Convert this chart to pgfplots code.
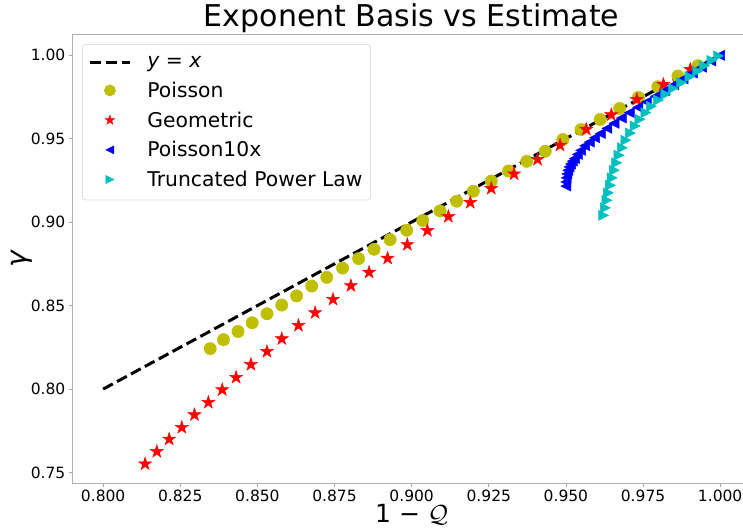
\documentclass[border=0pt]{standalone}
\usepackage{fontspec}
\setmainfont{DejaVu Sans}
\usepackage{pgfplots}
\pgfplotsset{compat=1.18}

\definecolor{mplyellow}{HTML}{BFBF00}
\definecolor{mplred}{HTML}{FF0000}
\definecolor{mplblue}{HTML}{0000FF}
\definecolor{mplcyan}{HTML}{00BFBF}

% filled five-pointed star, like matplotlib's '*'
\pgfdeclareplotmark{mplstar}{%
  \pgfpathmoveto{\pgfpointpolar{90}{\pgfplotmarksize}}%
  \pgfpathlineto{\pgfpointpolar{126}{0.382\pgfplotmarksize}}%
  \pgfpathlineto{\pgfpointpolar{162}{\pgfplotmarksize}}%
  \pgfpathlineto{\pgfpointpolar{198}{0.382\pgfplotmarksize}}%
  \pgfpathlineto{\pgfpointpolar{234}{\pgfplotmarksize}}%
  \pgfpathlineto{\pgfpointpolar{270}{0.382\pgfplotmarksize}}%
  \pgfpathlineto{\pgfpointpolar{306}{\pgfplotmarksize}}%
  \pgfpathlineto{\pgfpointpolar{342}{0.382\pgfplotmarksize}}%
  \pgfpathlineto{\pgfpointpolar{18}{\pgfplotmarksize}}%
  \pgfpathlineto{\pgfpointpolar{54}{0.382\pgfplotmarksize}}%
  \pgfpathclose
  \pgfusepathqfillstroke}
% triangles pointing left and right
\pgfdeclareplotmark{tleft}{%
  \pgfpathmoveto{\pgfpoint{-\pgfplotmarksize}{0pt}}%
  \pgfpathlineto{\pgfpoint{\pgfplotmarksize}{-\pgfplotmarksize}}%
  \pgfpathlineto{\pgfpoint{\pgfplotmarksize}{\pgfplotmarksize}}%
  \pgfpathclose
  \pgfusepathqfillstroke}
\pgfdeclareplotmark{tright}{%
  \pgfpathmoveto{\pgfpoint{\pgfplotmarksize}{0pt}}%
  \pgfpathlineto{\pgfpoint{-\pgfplotmarksize}{\pgfplotmarksize}}%
  \pgfpathlineto{\pgfpoint{-\pgfplotmarksize}{-\pgfplotmarksize}}%
  \pgfpathclose
  \pgfusepathqfillstroke}

\begin{document}
\begin{tikzpicture}
\begin{axis}[
    scale only axis,
    width=670.7bp, height=449bp,
    xmin=0.79, xmax=1.0074,
    ymin=0.7436, ymax=1.0124,
    xtick={0.8,0.825,...,1.0001},
    ytick={0.75,0.8,...,1.0001},
    x tick label style={/pgf/number format/.cd,fixed,fixed zerofill,precision=3},
    y tick label style={/pgf/number format/.cd,fixed,fixed zerofill,precision=2},
    /pgf/number format/assume math mode=true,
    tick label style={font=\fontsize{15.5bp}{18bp}\selectfont},
    tick align=outside,
    major tick length=3.5bp,
    tick style={gray!70, line width=0.8bp},
    axis line style={gray!60, line width=0.8bp},
    xtick pos=bottom, ytick pos=left,
    title={Exponent Basis vs Estimate},
    title style={font=\fontsize{30bp}{36bp}\selectfont, at={(axis description cs:0.506,1.004)}, anchor=base},
    xlabel={1 − \(\mathcal{Q}\)},
    xlabel style={font=\fontsize{25bp}{30bp}\selectfont, at={(axis description cs:0.506,-0.0877)}, anchor=base},
    ylabel={\itshape γ},
    ylabel style={font=\fontsize{28bp}{34bp}\selectfont, at={(axis description cs:-0.075,0.5)}, anchor=center},
    legend cell align=left,
    legend style={
        at={(axis description cs:0.0145,0.978)}, anchor=north west,
        draw=gray!25, line width=0.8bp, rounded corners=3bp,
        font=\fontsize{20.3bp}{24bp}\selectfont,
        inner xsep=6bp, inner ysep=10bp,
        row sep=8.8bp,
        /tikz/every odd column/.append style={column sep=14bp},
    },
]
\addlegendimage{legend image code/.code={\draw[black, line width=3bp, dash pattern=on 11bp off 4.8bp] (0bp,0bp) -- (40bp,0bp);}}
\addlegendentry{{\itshape y} = {\itshape x}}

% Poisson
\addplot[only marks, mark=*, mark size=6.2bp, color=mplyellow,
    legend image code/.code={\path[draw=none] (0bp,0bp) -- (40bp,0bp);
        \path[draw=none] plot[only marks, mark=*, mark size=5.5bp, mark options={draw=mplyellow, fill=mplyellow}] coordinates {(20bp,0bp)};}]
coordinates {
(0.8347,0.8242) (0.8390,0.8296) (0.8437,0.8345) (0.8483,0.8397) (0.8531,0.8451)
(0.8579,0.8503) (0.8627,0.8558) (0.8676,0.8617) (0.8725,0.8669) (0.8776,0.8725)
(0.8828,0.8781) (0.8878,0.8837) (0.8930,0.8895) (0.8984,0.8951) (0.9036,0.9009)
(0.9092,0.9067) (0.9146,0.9125) (0.9200,0.9185) (0.9258,0.9245) (0.9314,0.9306)
(0.9373,0.9364) (0.9433,0.9424) (0.9490,0.9494) (0.9549,0.9554) (0.9611,0.9614)
(0.9674,0.9680) (0.9735,0.9746) (0.9798,0.9810) (0.9863,0.9874) (0.9928,0.9936)
};
\addlegendentry{Poisson}

% Geometric
\addplot[only marks, mark=mplstar, mark size=6.8bp, color=mplred, line width=0.5bp,
    legend image code/.code={\path[draw=none] (0bp,0bp) -- (40bp,0bp);
        \path[draw=none] plot[only marks, mark=mplstar, mark size=5bp, mark options={draw=mplred, fill=mplred, line width=0.5bp}] coordinates {(20bp,0bp)};}]
coordinates {
(0.8136,0.7552) (0.8174,0.7626) (0.8214,0.7700) (0.8255,0.7770) (0.8296,0.7846)
(0.8341,0.7920) (0.8386,0.7996) (0.8431,0.8070) (0.8479,0.8147) (0.8531,0.8225)
(0.8579,0.8301) (0.8633,0.8381) (0.8687,0.8457) (0.8745,0.8537) (0.8803,0.8619)
(0.8862,0.8699) (0.8922,0.8783) (0.8986,0.8865) (0.9051,0.8949) (0.9119,0.9033)
(0.9190,0.9117) (0.9258,0.9201) (0.9332,0.9288) (0.9408,0.9375) (0.9481,0.9460)
(0.9566,0.9555) (0.9647,0.9642) (0.9730,0.9734) (0.9816,0.9824) (0.9903,0.9914)
};
\addlegendentry{Geometric}

% Poisson10x
\addplot[only marks, mark=tleft, mark size=5bp, color=mplblue, line width=0.5bp,
    legend image code/.code={\path[draw=none] (0bp,0bp) -- (40bp,0bp);
        \path[draw=none] plot[only marks, mark=tleft, mark size=4bp, mark options={draw=mplblue, fill=mplblue, line width=0.5bp}] coordinates {(20bp,0bp)};}]
coordinates {
(0.9500,0.9215) (0.9500,0.9240) (0.9501,0.9265) (0.9503,0.9288) (0.9506,0.9310)
(0.9510,0.9330) (0.9515,0.9348) (0.9521,0.9365) (0.9528,0.9381) (0.9537,0.9405)
(0.9548,0.9429) (0.9561,0.9457) (0.9576,0.9479) (0.9593,0.9505) (0.9612,0.9530)
(0.9633,0.9561) (0.9656,0.9591) (0.9680,0.9623) (0.9706,0.9655) (0.9733,0.9687)
(0.9761,0.9719) (0.9790,0.9753) (0.9820,0.9787) (0.9850,0.9822) (0.9880,0.9857)
(0.9910,0.9892) (0.9940,0.9927) (0.9970,0.9964) (0.9998,0.9998)
};
\addlegendentry{Poisson10x}

% Truncated Power Law
\addplot[only marks, mark=tright, mark size=5bp, color=mplcyan, line width=0.5bp,
    legend image code/.code={\path[draw=none] (0bp,0bp) -- (40bp,0bp);
        \path[draw=none] plot[only marks, mark=tright, mark size=4bp, mark options={draw=mplcyan, fill=mplcyan, line width=0.5bp}] coordinates {(20bp,0bp)};}]
coordinates {
(0.9622,0.9040) (0.9628,0.9085) (0.9633,0.9130) (0.9638,0.9175) (0.9644,0.9220)
(0.9650,0.9265) (0.9657,0.9310) (0.9664,0.9355) (0.9672,0.9400) (0.9683,0.9445)
(0.9694,0.9490) (0.9709,0.9533) (0.9724,0.9575) (0.9740,0.9615) (0.9759,0.9655)
(0.9777,0.9693) (0.9800,0.9730) (0.9824,0.9765) (0.9848,0.9800) (0.9875,0.9835)
(0.9902,0.9870) (0.9927,0.9903) (0.9949,0.9935) (0.9973,0.9968) (0.9995,0.9995)
};
\addlegendentry{Truncated Power Law}

% y = x, drawn last so it sits on the markers
\addplot[black, line width=3bp, dash pattern=on 11bp off 4.8bp, forget plot]
coordinates {(0.8,0.8) (1.0,1.0)};

\coordinate (bbl) at (axis description cs:-0.1078,-0.1018);
\coordinate (btr) at (axis description cs:1,1.0764);
\end{axis}
\pgfresetboundingbox
\path (bbl) rectangle (btr);
\end{tikzpicture}
\end{document}
